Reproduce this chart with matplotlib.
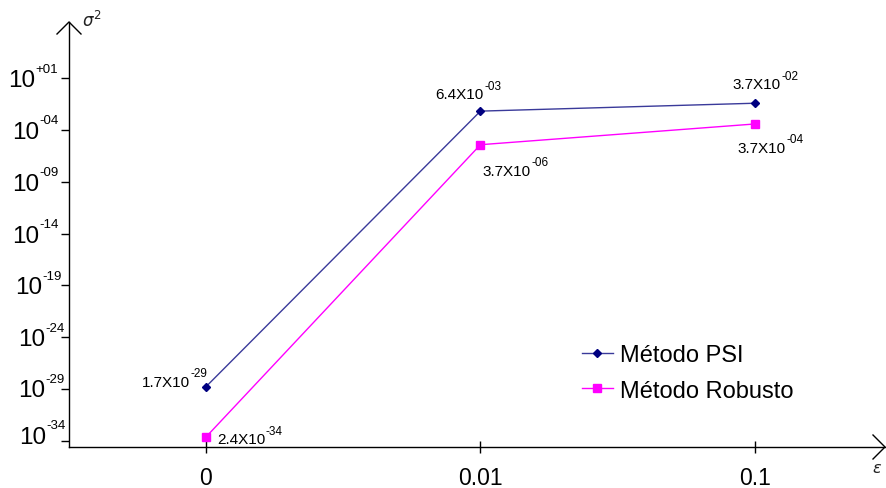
import matplotlib
matplotlib.use('Agg')
import matplotlib.pyplot as plt
from matplotlib.transforms import IdentityTransform
from matplotlib.lines import Line2D
from matplotlib.ticker import NullLocator
import numpy as np

# ---- data ----
categories = ['0', '0.01', '0.1']
psi_values = [1.7e-29, 6.4e-3, 3.7e-2]
robusto_values = [2.4e-34, 3.7e-6, 3.7e-4]
psi_bases = ['1.7X10', '6.4X10', '3.7X10']
psi_exps = ['-29', '-03', '-02']
rob_bases = ['2.4X10', '3.7X10', '3.7X10']
rob_exps = ['-34', '-06', '-04']
ytick_exps = [1, -4, -9, -14, -19, -24, -29, -34]
ytick_sups = ['+01', '-04', '-09', '-14', '-19', '-24', '-29', '-34']
series_names = ['Método PSI', 'Método Robusto']

# ---- layout / style ----
plt.rcParams['font.family'] = ['Liberation Sans', 'DejaVu Sans']
W, H = 887, 489
fig = plt.figure(figsize=(W / 100, H / 100), dpi=100)
ax = fig.add_axes([69 / W, (H - 448) / H, (885 - 69) / W, (448 - 23) / H])

x = np.arange(len(categories))
ax.plot(x, psi_values, color='#3a3a9a', lw=1, marker='D', ms=4.5,
        mfc='#000080', mec='#000080', label=series_names[0], clip_on=False)
ax.plot(x, robusto_values, color='#ff00ff', lw=1, marker='s', ms=5.5,
        mfc='#ff00ff', mec='#ff00ff', label=series_names[1], clip_on=False)

ax.set_yscale('log')
ax.set_ylim(10 ** -34.58, 10 ** 6.40)
ax.set_xlim(-0.499, 2.474)
ax.set_xticks(x, categories)
ax.set_yticks([10.0 ** e for e in ytick_exps])
ax.yaxis.set_minor_locator(NullLocator())
ax.tick_params(axis='y', which='major', direction='out', length=6, width=1,
               labelleft=False, color='black')
ax.tick_params(axis='x', direction='inout', length=8, width=1,
               labelsize=16.5, pad=10, color='black')
for s in ['top', 'right']:
    ax.spines[s].set_visible(False)
for s in ['left', 'bottom']:
    ax.spines[s].set_linewidth(1)
    ax.spines[s].set_color('black')

idt = IdentityTransform()
# arrow heads
fig.add_artist(Line2D([57, 69, 81], [H - 35, H - 23, H - 35], transform=idt,
                      color='black', lw=1))
fig.add_artist(Line2D([873, 885, 873], [H - 436, H - 448, H - 460], transform=idt,
                      color='black', lw=1))
fig.text(82, H - 27, r'$\sigma^2$', transform=idt, fontsize=12, ha='left',
         va='baseline', color='#222222')
fig.text(872, H - 473, r'$\varepsilon$', transform=idt, fontsize=11.5, ha='left',
         va='baseline', color='#222222')

renderer = fig.canvas.get_renderer()
ax_left = ax.transAxes.transform((0, 0))[0]

# y tick labels 10^xx (right edge of superscript, baseline shift per label)
sup_right_gap = [11, 10, 10, 10, 7, 4, 4, 3]
base_drop = [8, 8, 8, 8, 8, 8, 7, 2]
for e, sup, gap, drop in zip(ytick_exps, ytick_sups, sup_right_gap, base_drop):
    yp = ax.transData.transform((0, 10.0 ** e))[1]
    st = fig.text(ax_left - gap, yp - drop + 14.5, sup, transform=idt, fontsize=9.5,
                  ha='right', va='baseline')
    bb = st.get_window_extent(renderer)
    fig.text(bb.x0 - 0.5, yp - drop, '10', transform=idt, fontsize=17.5,
             ha='right', va='baseline')

# data labels
psi_offsets = [(-64, 1), (-45, 13), (-22, 15)]
rob_offsets = [(11, -6), (2, -30), (-17, -28)]


def data_label(xi, v, base, ex, off):
    px, py = ax.transData.transform((xi, v))
    bt = fig.text(px + off[0], py + off[1], base, transform=idt, fontsize=11,
                  ha='left', va='baseline')
    bb = bt.get_window_extent(renderer)
    fig.text(bb.x1 + 0.5, py + off[1] + 9.5, ex, transform=idt, fontsize=8.5,
             ha='left', va='baseline')


for i in range(len(categories)):
    data_label(x[i], psi_values[i], psi_bases[i], psi_exps[i], psi_offsets[i])
    data_label(x[i], robusto_values[i], rob_bases[i], rob_exps[i], rob_offsets[i])

ax.legend(loc='upper left', bbox_to_anchor=(582 / W, 1 - 345 / H),
          bbox_transform=fig.transFigure, frameon=False, fontsize=17,
          handlelength=1.3, handletextpad=0.3, labelspacing=0.58,
          borderpad=0, borderaxespad=0)

fig.savefig('out.png', dpi=100)
